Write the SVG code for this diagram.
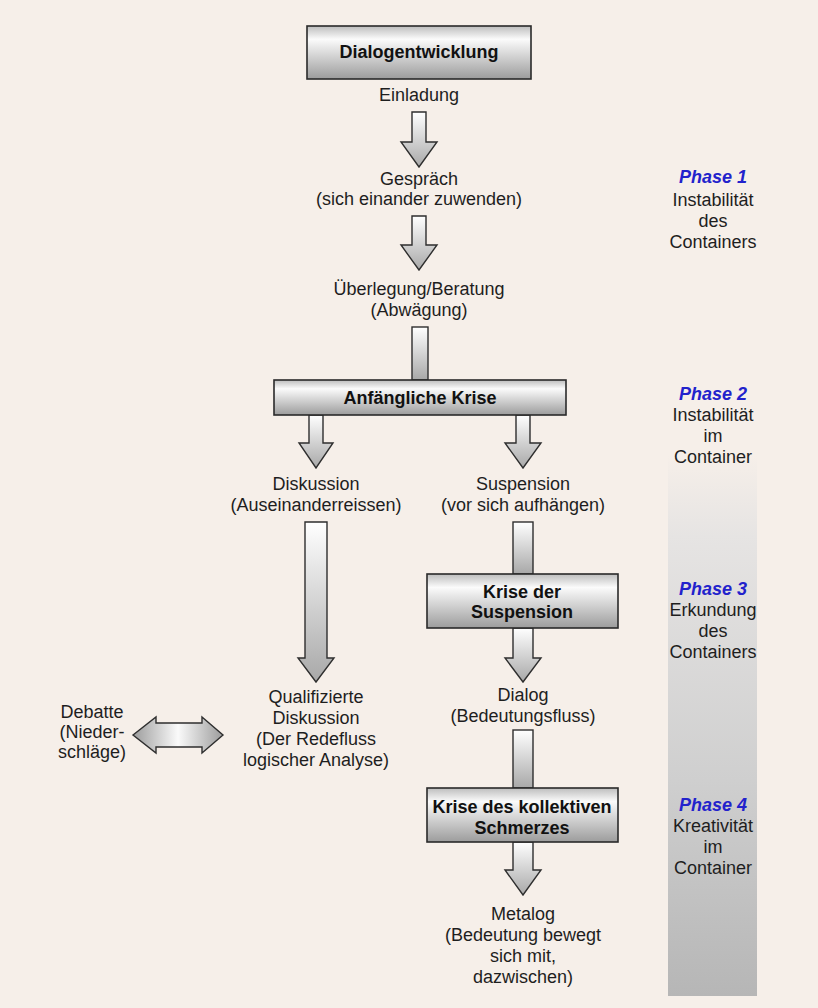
<svg xmlns="http://www.w3.org/2000/svg" width="818" height="1008" viewBox="0 0 818 1008">
<style>
.t{font-family:"Liberation Sans",Arial,sans-serif;font-size:18px;fill:#1e1e1e;text-anchor:middle}
.b{font-weight:bold;fill:#111}
.ph{font-weight:bold;font-style:italic;fill:#2222cc}
.box{fill:url(#gBox);stroke:#2a2a2a;stroke-width:1.6}
.arr{fill:url(#gArr);stroke:#2e2e2e;stroke-width:1.4;stroke-linejoin:miter}
.dbl{fill:url(#gDbl);stroke:#2e2e2e;stroke-width:1.4}
</style>
<defs>
<linearGradient id="gBox" x1="0" y1="0" x2="0" y2="1">
<stop offset="0" stop-color="#bdbdbd"/>
<stop offset="0.25" stop-color="#fbfbfb"/>
<stop offset="1" stop-color="#9c9c9c"/>
</linearGradient>
<linearGradient id="gArr" x1="0" y1="0" x2="0" y2="1">
<stop offset="0" stop-color="#ffffff"/>
<stop offset="1" stop-color="#a8a8a8"/>
</linearGradient>
<linearGradient id="gDbl" x1="0" y1="0" x2="1" y2="0">
<stop offset="0" stop-color="#9c9c9c"/>
<stop offset="0.5" stop-color="#fafafa"/>
<stop offset="1" stop-color="#9c9c9c"/>
</linearGradient>
<linearGradient id="gBar" x1="0" y1="0" x2="0" y2="1">
<stop offset="0" stop-color="#f6efe9"/>
<stop offset="0.15" stop-color="#e6e4e3"/>
<stop offset="0.6" stop-color="#cfcfcf"/>
<stop offset="1" stop-color="#b6b6b6"/>
</linearGradient>
</defs>
<rect width="818" height="1008" fill="#f6efe9"/>

<g id="phase-bar">
<rect x="668" y="455" width="89" height="541" fill="url(#gBar)"/>
</g>

<g id="connectors">
<polygon class="arr" points="412,112 426,112 426,142 437,142 419,167 401,142 412,142"/>
<polygon class="arr" points="412,216 426,216 426,245 437,245 419,270 401,245 412,245"/>
<rect class="arr" x="412" y="327" width="16" height="53"/>
<polygon class="arr" points="309,415 323,415 323,443 333,443 316,468 299,443 309,443"/>
<polygon class="arr" points="516,415 530,415 530,443 541,443 523,468 505,443 516,443"/>
<polygon class="arr" points="305,522 327,522 327,658 334,658 316,682 298,658 305,658"/>
<rect class="arr" x="513" y="522" width="20" height="52"/>
<polygon class="arr" points="513,628 533,628 533,658 541,658 523,682 505,658 513,658"/>
<rect class="arr" x="513" y="730" width="20" height="58"/>
<polygon class="arr" points="513,842 533,842 533,870 541,870 523,895 505,870 513,870"/>
<polygon class="dbl" points="133,735 156,717 156,723 202,723 202,717 223,735 202,753 202,747 156,747 156,753"/>
</g>

<g id="dialogentwicklung">
<rect class="box" x="307" y="26" width="224" height="53"/>
<text class="t b" x="419" y="58">Dialogentwicklung</text>
</g>
<g id="einladung"><text class="t" x="419" y="101">Einladung</text></g>
<g id="gespraech">
<text class="t" x="419" y="185">Gespräch</text>
<text class="t" x="419" y="205">(sich einander zuwenden)</text>
</g>
<g id="ueberlegung">
<text class="t" x="419" y="295">Überlegung/Beratung</text>
<text class="t" x="419" y="316">(Abwägung)</text>
</g>
<g id="anfaengliche-krise">
<rect class="box" x="274" y="380" width="292" height="35"/>
<text class="t b" x="420" y="404">Anfängliche Krise</text>
</g>
<g id="diskussion">
<text class="t" x="316" y="490">Diskussion</text>
<text class="t" x="316" y="511">(Auseinanderreissen)</text>
</g>
<g id="suspension">
<text class="t" x="523" y="490">Suspension</text>
<text class="t" x="523" y="511">(vor sich aufhängen)</text>
</g>
<g id="krise-suspension">
<rect class="box" x="427" y="574" width="191" height="54"/>
<text class="t b" x="522" y="598">Krise der</text>
<text class="t b" x="522" y="618">Suspension</text>
</g>
<g id="dialog">
<text class="t" x="523" y="701">Dialog</text>
<text class="t" x="523" y="722">(Bedeutungsfluss)</text>
</g>
<g id="qualifizierte-diskussion">
<text class="t" x="316" y="703">Qualifizierte</text>
<text class="t" x="316" y="724">Diskussion</text>
<text class="t" x="316" y="745">(Der Redefluss</text>
<text class="t" x="316" y="766">logischer Analyse)</text>
</g>
<g id="debatte">
<text class="t" x="92" y="718">Debatte</text>
<text class="t" x="92" y="738">(Nieder-</text>
<text class="t" x="92" y="758">schläge)</text>
</g>
<g id="krise-schmerz">
<rect class="box" x="427" y="788" width="191" height="54"/>
<text class="t b" x="522" y="813">Krise des kollektiven</text>
<text class="t b" x="522" y="834">Schmerzes</text>
</g>
<g id="metalog">
<text class="t" x="523" y="920">Metalog</text>
<text class="t" x="523" y="941">(Bedeutung bewegt</text>
<text class="t" x="523" y="962">sich mit,</text>
<text class="t" x="523" y="983">dazwischen)</text>
</g>

<g id="phase1">
<text class="t ph" x="713" y="183">Phase 1</text>
<text class="t" x="713" y="206">Instabilität</text>
<text class="t" x="713" y="227">des</text>
<text class="t" x="713" y="248">Containers</text>
</g>
<g id="phase2">
<text class="t ph" x="713" y="400">Phase 2</text>
<text class="t" x="713" y="421">Instabilität</text>
<text class="t" x="713" y="442">im</text>
<text class="t" x="713" y="463">Container</text>
</g>
<g id="phase3">
<text class="t ph" x="713" y="595">Phase 3</text>
<text class="t" x="713" y="616">Erkundung</text>
<text class="t" x="713" y="637">des</text>
<text class="t" x="713" y="658">Containers</text>
</g>
<g id="phase4">
<text class="t ph" x="713" y="811">Phase 4</text>
<text class="t" x="713" y="832">Kreativität</text>
<text class="t" x="713" y="853">im</text>
<text class="t" x="713" y="874">Container</text>
</g>
</svg>
